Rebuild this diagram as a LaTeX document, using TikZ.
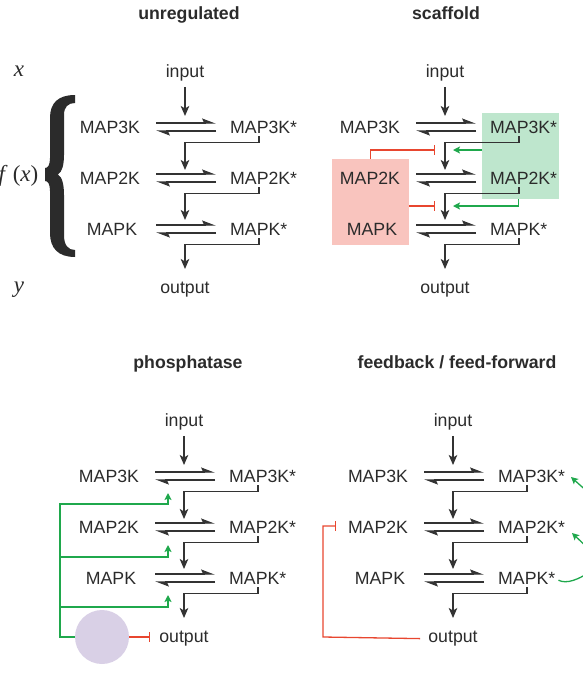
\documentclass[tikz,border=0pt]{standalone}
\usepackage{fontspec}
\setmainfont{Liberation Sans}
\newfontfamily\mathserif{Liberation Serif}
\usetikzlibrary{arrows.meta,calc}
\definecolor{linec}{HTML}{333333}
\definecolor{txtc}{HTML}{2B2B2B}
\definecolor{redc}{HTML}{E8462F}
\definecolor{greenc}{HTML}{1FA84C}
\definecolor{gbox}{HTML}{BEE6CD}
\definecolor{rbox}{HTML}{F9C4BE}
\definecolor{lav}{HTML}{D9D0E6}
\newcommand{\fsz}{\fontsize{17.7}{21}\selectfont}
\tikzset{
 blk/.style={draw=linec,line width=1.3pt},
 arr/.style={blk,-{Stealth[length=10pt,width=8.5pt,inset=2.5pt]}},
 eqf/.style={draw=linec,line width=1.4pt,-{Stealth[left,length=12pt,width=9pt,inset=2pt]}},
 txt/.style={font=\fsz,text=txtc,inner sep=0pt},
 ttl/.style={font=\fsz\bfseries,text=txtc,inner sep=0pt,anchor=base},
 mth/.style={font=\mathserif\fontsize{23}{26}\selectfont,text=txtc,inner sep=0pt},
 grn/.style={draw=greenc,line width=1.3pt},
 garr/.style={grn,-{Stealth[length=7pt,width=7pt,inset=1.5pt]}},
 inh/.style={draw=redc,line width=1.3pt,-{Bar[width=10pt]}},
 boxr/.style={fill=rbox,draw=none,minimum width=77pt,minimum height=86pt,anchor=north west,inner sep=0pt},
 boxg/.style={fill=gbox,draw=none,minimum width=77pt,minimum height=86pt,anchor=north west,inner sep=0pt},
}
\newcommand{\cascade}[3]{%
 \begin{scope}[shift={(#2,#3)}]
 \node[txt,anchor=base] (#1in) at (185,77) {input};
 \node[txt,anchor=base] (#1a) at (110,133.3) {MAP3K};
 \node[txt,anchor=base west] (#1as) at (230,133.3) {MAP3K*};
 \node[txt,anchor=base] (#1b) at (110,184.3) {MAP2K};
 \node[txt,anchor=base west] (#1bs) at (230,184.3) {MAP2K*};
 \node[txt,anchor=base] (#1c) at (112,235.3) {MAPK};
 \node[txt,anchor=base west] (#1cs) at (230,235.3) {MAPK*};
 \node[txt,anchor=base] (#1out) at (185,293.5) {output};
 \coordinate (#1t0) at (185,116);
 \coordinate (#1t1) at (185,170);
 \coordinate (#1t2) at (185,220);
 \coordinate (#1t3) at (185,269);
 \draw[arr] ([yshift=-6pt]#1in.south) -- (#1t0);
 \foreach \yy in {127,178,229} {
   \draw[eqf] (156,\yy-4) -- (216,\yy-4);
   \draw[eqf] (216,\yy+4) -- (156,\yy+4);
 }
 \draw[arr] ([shift={(29pt,-3pt)}]#1as.base west) -- ++(0,6) -| (#1t1);
 \draw[arr] ([shift={(29pt,-3pt)}]#1bs.base west) -- ++(0,6) -| (#1t2);
 \draw[arr] ([shift={(29pt,-3pt)}]#1cs.base west) -- ++(0,6) -| (#1t3);
 \end{scope}}
\begin{document}
\begin{tikzpicture}[x=1pt,y=-1pt]
\useasboundingbox (0,0) rectangle (583,678);
\clip (0,0) rectangle (583,678);
% titles
\node[ttl] (t1) at (189,19.5) {unregulated};
\node[ttl] (t2) at (446,19.5) {scaffold};
\node[ttl] (t3) at (188,368.5) {phosphatase};
\node[ttl] (t4) at (457,368.5) {feedback / feed-forward};
% math labels
\node[mth,anchor=base] (lx) at (19,76) {\itshape x};
\node[mth,anchor=base east] (lf) at (38.5,181) {{\itshape f}\,\,({\itshape x})};
\node[mth,anchor=base] (ly) at (19,292) {\itshape y};
% brace
\fill[txtc] (75,95) .. controls (58,95) and (50,103) .. (50,118) -- (50,158)
  .. controls (50,165) and (48,168) .. (45,168) -- (45,181)
  .. controls (48,181) and (50,184) .. (50,191) -- (50,233)
  .. controls (50,248) and (58,257) .. (75,257) -- (75,250)
  .. controls (68,250) and (64,245) .. (64,235) -- (64,195)
  .. controls (64,184) and (62,177) .. (58,174.5)
  .. controls (62,172) and (64,165) .. (64,155) -- (64,115)
  .. controls (64,107) and (68,103) .. (75,103) -- cycle;
% scaffold boxes
\node[boxg] (greenbox) at (482,113) {};
\node[boxr] (redbox) at (332,159) {};
% phosphatase circle
\node[circle,fill=lav,draw=none,minimum size=54pt,inner sep=0pt] (circ) at (102,637) {};
% cascades
\cascade{p}{0}{0}
\cascade{q}{260}{0}
\cascade{r}{-1}{349}
\cascade{s}{268}{349}
% scaffold regulation
\coordinate (r1end) at (435,150);
\coordinate (r2end) at (435,206);
\coordinate (g1end) at (453,150);
\coordinate (g2end) at (453,206);
\draw[inh] (redbox.north) |- (r1end);
\draw[inh] (redbox.east |- r2end) -- (r2end);
\draw[garr] (greenbox.west |- g1end) -- (g1end);
\draw[garr] ([xshift=-2.5pt]greenbox.south) |- (g2end);
% phosphatase
\coordinate (gv) at (60,504);
\coordinate (pe) at (150,637);
\draw[garr] (circ.west) -| (gv) -- (168,504) -- (168,493);
\draw[garr] (60,557) -- (168,557) -- (168,545);
\draw[garr] (60,607) -- (168,607) -- (168,595);
\draw[inh] (circ.east) -- (pe);
% feedback / feed-forward
\coordinate (fbl) at (323,637);
\coordinate (fbe) at (336,526);
\draw[inh] ([xshift=-8pt]sout.west) -- (fbl) |- (fbe);
\coordinate (s2tip) at (572,533);
\coordinate (s3tip) at (571,477);
\draw[grn] ([shift={(3pt,-2pt)}]scs.east) .. controls (566,584) and (578,581) .. (595,568);
\draw[garr] (600,558) .. controls (590,550) .. (s2tip);
\draw[garr] (600,502) .. controls (590,494) .. (s3tip);
\end{tikzpicture}
\end{document}
